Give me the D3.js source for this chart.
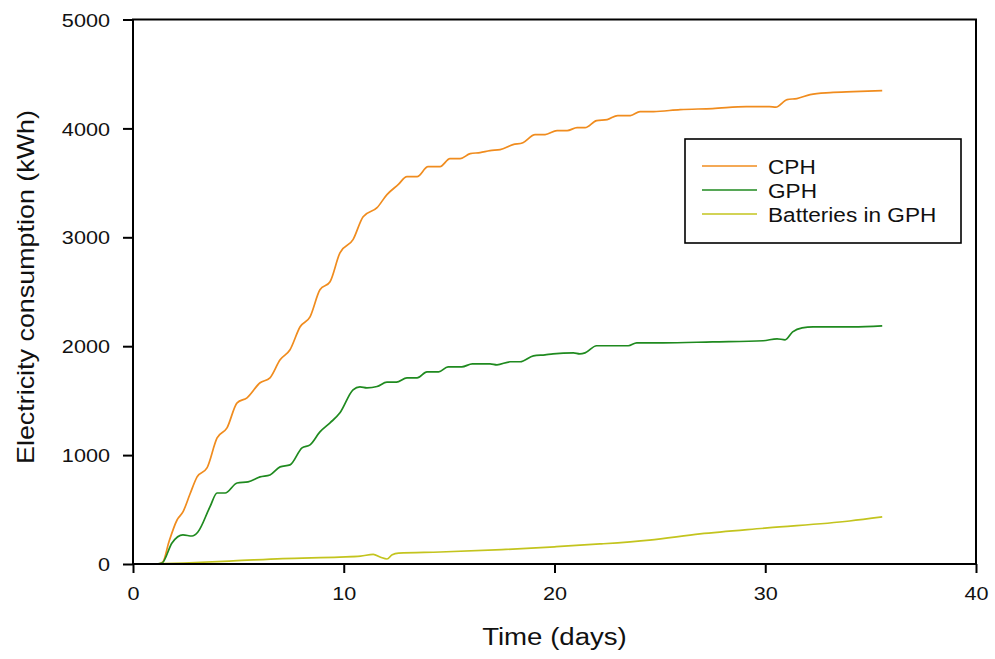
<!DOCTYPE html>
<html>
<head>
<meta charset="utf-8">
<script src="https://cdn.jsdelivr.net/npm/d3@7"></script>
<style>
  body { margin: 0; background: #fff; }
  text { font-family: "Liberation Sans", Arial, sans-serif; fill: #111; }
</style>
</head>
<body>
<div id="chart"></div>
<script>
var width = 995;
var height = 659;
var STRETCH = 1.17; // the source picture is a little wider than tall

// series names + colours
const seriesNames = ["CPH", "GPH", "Batteries in GPH"];
const seriesColors = ["#f08c1e", "#1f8a1f", "#c3c41e"];

// CPH (day, kWh)
const cphDays = [1.2, 1.42, 1.7, 2.09, 2.37, 2.7, 3.04, 3.51, 3.99, 4.46, 4.94, 5.41, 6.03, 6.5, 6.98, 7.45,
  7.93, 8.4, 8.87, 9.35, 9.82, 10.44, 10.92, 11.58, 12.05, 12.58, 13.0, 13.48, 14.0, 14.57, 15.04, 15.52,
  16.0, 16.47, 16.94, 17.42, 18.03, 18.5, 19.08, 19.55, 20.12, 20.6, 21.07, 21.45, 22.0, 22.5, 23.0, 23.6,
  24.06, 24.7, 25.96, 27.5, 29.1, 30.2, 30.5, 31.04, 31.5, 32.13, 33.08, 34.17, 35.55];
const cphValues = [0, 20, 200, 404, 478, 640, 800, 882, 1158, 1250, 1480, 1526, 1664, 1710, 1875, 1967,
  2178, 2270, 2518, 2592, 2858, 2978, 3189, 3272, 3392, 3483, 3557, 3557, 3649, 3649, 3722, 3722,
  3768, 3778, 3796, 3805, 3851, 3869, 3943, 3943, 3980, 3980, 4007, 4007, 4072, 4081, 4118, 4118,
  4154, 4154, 4173, 4182, 4200, 4200, 4195, 4265, 4274, 4310, 4329, 4338, 4347];

// GPH (day, kWh)
const gphDays = [1.1, 1.38, 1.85, 2.37, 2.8, 3.08, 3.65, 3.99, 4.37, 4.94, 5.46, 6.03, 6.5, 6.98, 7.45,
  8.02, 8.4, 8.87, 9.35, 9.82, 10.44, 10.77, 11.1, 11.58, 12.05, 12.5, 13.0, 13.48, 13.95, 14.5, 14.95, 15.6,
  16.1, 16.94, 17.27, 17.9, 18.37, 19.0, 19.55, 19.93, 20.9, 21.2, 21.45, 22.0, 23.5, 23.9, 25.15, 27.5,
  29.9, 30.56, 30.94, 31.3, 31.75, 32.27, 34.17, 35.55];
const gphValues = [0, 9, 193, 267, 257, 294, 524, 652, 652, 744, 754, 800, 818, 892, 910,
  1066, 1094, 1213, 1296, 1388, 1599, 1627, 1618, 1630, 1670, 1670, 1709, 1709, 1765, 1765, 1810, 1810,
  1838, 1838, 1829, 1857, 1857, 1911, 1921, 1930, 1939, 1930, 1939, 2004, 2004, 2031, 2031, 2040,
  2050, 2068, 2059, 2132, 2169, 2178, 2178, 2187];

// Batteries in GPH (day, kWh)
const batDays = [0.95, 2.4, 4.75, 7.1, 9.8, 10.8, 11.4, 11.75, 12.05, 12.3, 12.6, 14.57, 17.5, 20.0, 22.16,
  24.5, 26.9, 30.1, 34.0, 35.55];
const batValues = [0, 9, 28, 50, 64, 72, 89, 62, 46, 85, 100, 110, 132, 158, 184,
  220, 276, 331, 395, 432];

const xTicks = [0, 10, 20, 30, 40];
const yTicks = [0, 1000, 2000, 3000, 4000, 5000];

const series = [
  { name: seriesNames[0], color: seriesColors[0], days: cphDays, values: cphValues },
  { name: seriesNames[1], color: seriesColors[1], days: gphDays, values: gphValues },
  { name: seriesNames[2], color: seriesColors[2], days: batDays, values: batValues }
];

var margin = { top: 19.5, right: 19, bottom: 95, left: 133 };

var svg = d3.select("#chart")
  .append("svg")
  .attr("width", width)
  .attr("height", height);

var xScale = d3.scaleLinear().domain([0, 40]).range([margin.left, width - margin.right]);
var yScale = d3.scaleLinear().domain([0, 5000]).range([height - margin.bottom, margin.top]);

// stretch text horizontally like the source
function stretch(sel, factor) {
  sel.each(function () {
    var w = this.getComputedTextLength();
    d3.select(this).attr("textLength", w * factor).attr("lengthAdjust", "spacingAndGlyphs");
  });
}

// lines first, frame on top
var line = d3.line()
  .x(function (d) { return xScale(d[0]); })
  .y(function (d) { return yScale(d[1]); })
  .curve(d3.curveMonotoneX);

svg.append("g").selectAll("path")
  .data(series)
  .enter()
  .append("path")
  .attr("fill", "none")
  .attr("stroke", function (d) { return d.color; })
  .attr("stroke-width", 1.7)
  .attr("d", function (d) { return line(d.days.map(function (t, i) { return [t, d.values[i]]; })); });

// axes
var xAxis = d3.axisBottom(xScale).tickValues(xTicks).tickSize(9).tickPadding(14).tickFormat(d3.format("d"));
var yAxis = d3.axisLeft(yScale).tickValues(yTicks).tickSize(10).tickPadding(13).tickFormat(d3.format("d"));

var gx = svg.append("g")
  .attr("transform", "translate(0," + (height - margin.bottom) + ")")
  .call(xAxis);
var gy = svg.append("g")
  .attr("transform", "translate(" + margin.left + ",0)")
  .call(yAxis);

[gx, gy].forEach(function (g) {
  g.select(".domain").remove();
  g.selectAll(".tick line").attr("stroke", "#000").attr("stroke-width", 2);
  g.selectAll(".tick text").attr("font-size", 18.5).attr("fill", "#111")
    .style("font-family", "Liberation Sans, Arial, sans-serif");
});
gy.selectAll(".tick text").attr("dy", "0.36em");
stretch(gx.selectAll(".tick text"), STRETCH);
stretch(gy.selectAll(".tick text"), STRETCH);

// frame box
svg.append("rect")
  .attr("x", margin.left)
  .attr("y", margin.top)
  .attr("width", width - margin.right - margin.left)
  .attr("height", height - margin.bottom - margin.top)
  .attr("fill", "none")
  .attr("stroke", "#000")
  .attr("stroke-width", 2);

// axis titles
var xt = svg.append("text")
  .attr("x", xScale(20))
  .attr("y", 645)
  .attr("text-anchor", "middle")
  .attr("font-size", 23)
  .text("Time (days)");
stretch(xt, 1.2);

svg.append("text")
  .attr("transform", "translate(34," + 287 + ") rotate(-90)")
  .attr("text-anchor", "middle")
  .attr("font-size", 24)
  .attr("textLength", 354)
  .attr("lengthAdjust", "spacingAndGlyphs")
  .text("Electricity consumption (kWh)");

// legend
var legend = svg.append("g");
legend.append("rect")
  .attr("x", 685).attr("y", 139)
  .attr("width", 276).attr("height", 104)
  .attr("fill", "#fff")
  .attr("stroke", "#000")
  .attr("stroke-width", 1.6);

var items = legend.selectAll(".item")
  .data(series)
  .enter()
  .append("g")
  .attr("class", "item")
  .attr("transform", function (d, i) { return "translate(0," + (166 + i * 24) + ")"; });

items.append("line")
  .attr("x1", 702).attr("x2", 757)
  .attr("stroke", function (d) { return d.color; })
  .attr("stroke-width", 1.7);

var lt = items.append("text")
  .attr("x", 768)
  .attr("y", 8)
  .attr("font-size", 20)
  .text(function (d) { return d.name; });
stretch(lt, 1.13);
</script>
</body>
</html>
